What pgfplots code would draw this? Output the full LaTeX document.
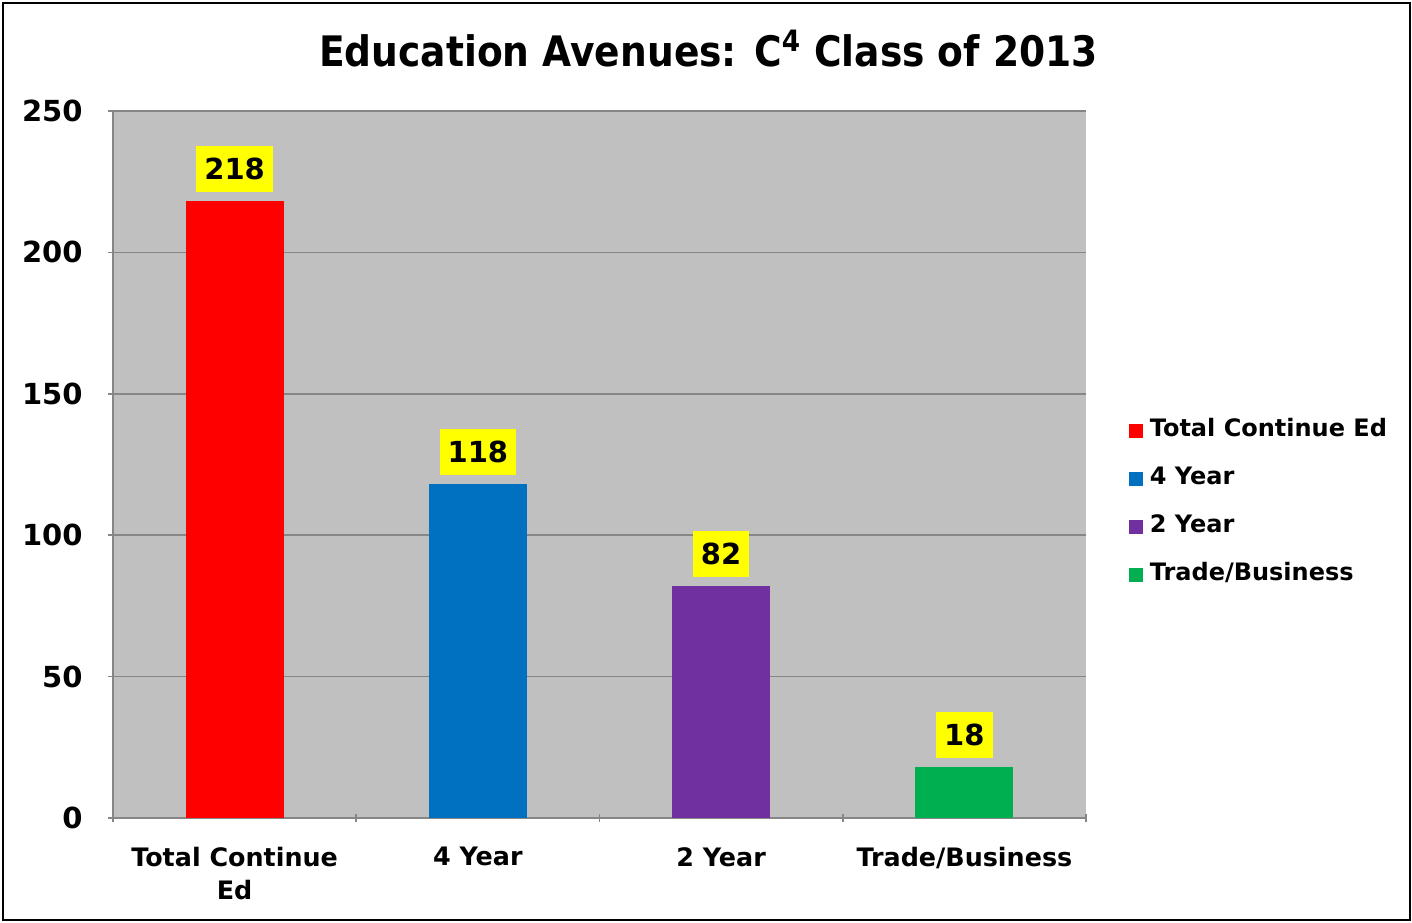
\documentclass[border=0pt]{standalone}
\usepackage{fontspec}
\setmainfont{DejaVu Sans}
\newfontfamily\titlefont[FakeStretch=0.895]{DejaVu Sans Bold}
\usepackage{pgfplots}
\pgfplotsset{compat=1.18}
\definecolor{bgray}{RGB}{192,192,192}
\definecolor{lgray}{RGB}{134,134,134}
\definecolor{cred}{RGB}{255,0,0}
\definecolor{cblue}{RGB}{0,112,192}
\definecolor{cpurple}{RGB}{112,48,160}
\definecolor{cgreen}{RGB}{0,176,80}
\definecolor{cyellow}{RGB}{255,255,0}
\begin{document}
\begin{tikzpicture}
\useasboundingbox (0,0) rectangle (706pt,461pt);
\draw[line width=1.25pt] (1.5pt,1pt) rectangle (705pt,459.5pt);
\node[font=\titlefont\fontsize{21}{25}\selectfont] at (354.25pt,436.5pt) {Education Avenues: C\textsuperscript{4} Class of 2013};
\begin{axis}[
  at={(56.5pt,52pt)}, anchor=south west,
  scale only axis, width=486.5pt, height=353.5pt,
  xmin=-0.5, xmax=3.5, ymin=0, ymax=250,
  ytick={0,50,...,250},
  xtick={0,1,2,3},
  xticklabels={{Total Continue\\Ed},{4 Year},{2 Year},{Trade/Business}},
  minor xtick={-0.5,0.5,1.5,2.5,3.5},
  major x tick style={draw=none},
  minor tick length=4pt, major tick length=5pt,
  tick align=outside,
  axis x line=bottom, axis y line=left,
  axis line style={-, lgray, line width=0.8pt},
  tick style={lgray, line width=0.8pt},
  ymajorgrids, grid style={lgray, line width=0.8pt},
  axis background/.style={fill=bgray},
  /pgf/number format/assume math mode=true,
  yticklabel style={font=\bfseries\fontsize{14.5}{16}\selectfont, anchor=east, inner sep=0pt, xshift=-12.5pt},
  xticklabel style={font=\bfseries\fontsize{12.7}{16.5}\selectfont, align=center, anchor=north, inner sep=0pt, yshift=-12pt},
  nodes near coords,
  every node near coord/.style={fill=cyellow, text=black, font=\bfseries\fontsize{14.5}{16}\selectfont, anchor=south, yshift=4.5pt, inner xsep=4pt, inner ysep=0pt, minimum height=23pt},
  legend style={at={(1.044,0.446)}, anchor=west, draw=none, fill=none, inner sep=0pt, outer sep=0pt,
    font=\bfseries\fontsize{12}{13}\selectfont, row sep=13pt,
    nodes={inner sep=0pt, text height=8.5pt, text depth=2.5pt, anchor=west},
    /tikz/every odd column/.append style={column sep=3.5pt}},
  legend cell align=left,
  legend image code/.code={\fill[#1] (0pt,-3.5pt) rectangle (7pt,3.5pt);},
]
\addplot[ybar, bar width=49pt, fill=cred, draw=none] coordinates {(0,218)};
\addlegendentry{Total Continue Ed}
\addplot[ybar, bar width=49pt, fill=cblue, draw=none] coordinates {(1,118)};
\addlegendentry{4 Year}
\addplot[ybar, bar width=49pt, fill=cpurple, draw=none] coordinates {(2,82)};
\addlegendentry{2 Year}
\addplot[ybar, bar width=49pt, fill=cgreen, draw=none] coordinates {(3,18)};
\addlegendentry{Trade/Business}
\end{axis}
\end{tikzpicture}
\end{document}
